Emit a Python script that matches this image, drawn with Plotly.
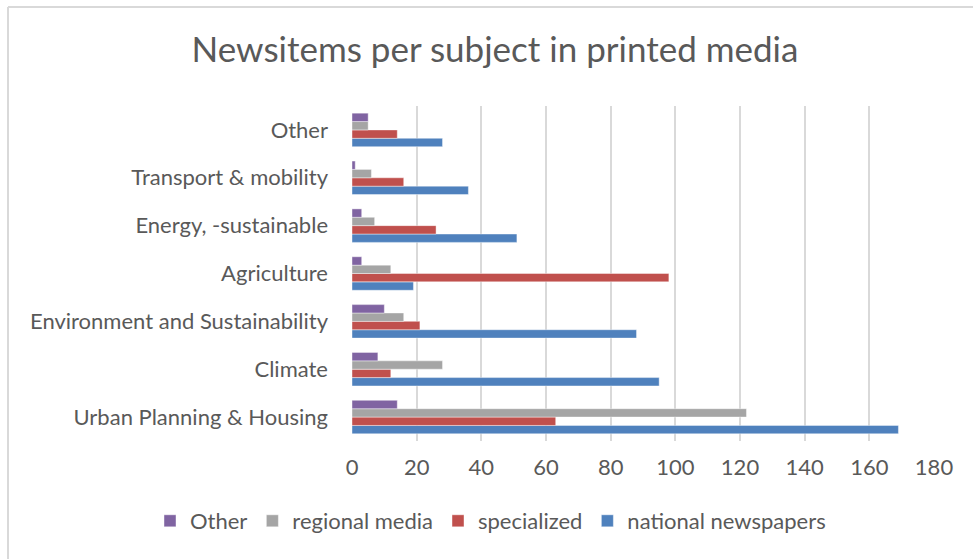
import plotly.graph_objects as go

# Subjects, listed bottom to top on the category axis
subjects = [
    "Urban Planning & Housing",
    "Climate",
    "Environment and Sustainability",
    "Agriculture",
    "Energy, -sustainable",
    "Transport & mobility",
    "Other",
]

# Number of news items per subject for each media type
national_newspapers = [169, 95, 88, 19, 51, 36, 28]
specialized = [63, 12, 21, 98, 26, 16, 14]
regional_media = [122, 28, 16, 12, 7, 6, 5]
other_media = [14, 8, 10, 3, 3, 1, 5]

x_ticks = [0, 20, 40, 60, 80, 100, 120, 140, 160, 180]

TEXT = "#595959"
FONT = "Lato"

series = [
    ("national newspapers", national_newspapers, "#4F81BD"),
    ("specialized", specialized, "#C0504D"),
    ("regional media", regional_media, "#A5A5A5"),
    ("Other", other_media, "#8064A2"),
]

W, H = 973, 559
ML, MR, MT, MB = 352, 39, 106, 118
PW, PH = W - ML - MR, H - MT - MB

fig = go.Figure()
for name, values, color in series:
    fig.add_trace(go.Bar(
        name=name,
        y=subjects,
        x=values,
        orientation="h",
        marker=dict(color=color, line=dict(color="rgba(255,255,255,0.7)", width=0.6)),
    ))

fig.update_layout(
    width=W,
    height=H,
    paper_bgcolor="white",
    plot_bgcolor="white",
    barmode="group",
    bargap=0.3,
    bargroupgap=0,
    margin=dict(l=ML, r=MR, t=MT, b=MB, autoexpand=False),
    font=dict(family=FONT, color=TEXT, size=22),
    title=dict(
        text="Newsitems per subject in printed media",
        font=dict(family=FONT, size=35, color=TEXT),
        x=495 / W, xref="container", xanchor="center",
        y=1 - 50 / H, yref="container", yanchor="middle",
    ),
    xaxis=dict(
        range=[0, 180],
        tickvals=x_ticks,
        showgrid=True,
        gridcolor="#D9D9D9",
        gridwidth=1.5,
        zeroline=False,
        showline=False,
        ticks="",
        ticklabelstandoff=11,
        tickfont=dict(family=FONT, size=22, color=TEXT),
        fixedrange=True,
    ),
    yaxis=dict(
        showgrid=False,
        zeroline=False,
        showline=False,
        ticks="",
        ticklabelstandoff=23,
        tickfont=dict(family=FONT, size=22, color=TEXT),
        fixedrange=True,
    ),
    legend=dict(
        orientation="h",
        traceorder="reversed",
        x=(150 - ML) / PW, xref="paper", xanchor="left",
        y=-(521 - (H - MB)) / PH, yref="paper", yanchor="middle",
        font=dict(family=FONT, size=22, color=TEXT),
        itemwidth=30,
    ),
    shapes=[
        # chart frame (left and top edges)
        dict(type="line", xref="paper", yref="paper", x0=-(ML - 8) / PW, x1=1.2,
             y0=(H - MB - 7) / PH, y1=(H - MB - 7) / PH,
             line=dict(color="#D9D9D9", width=2)),
        dict(type="line", xref="paper", yref="paper", x0=-(ML - 8) / PW, x1=-(ML - 8) / PW,
             y0=-0.5, y1=(H - MB - 7) / PH,
             line=dict(color="#D9D9D9", width=2)),
    ],
)

fig.write_html("out.html")
